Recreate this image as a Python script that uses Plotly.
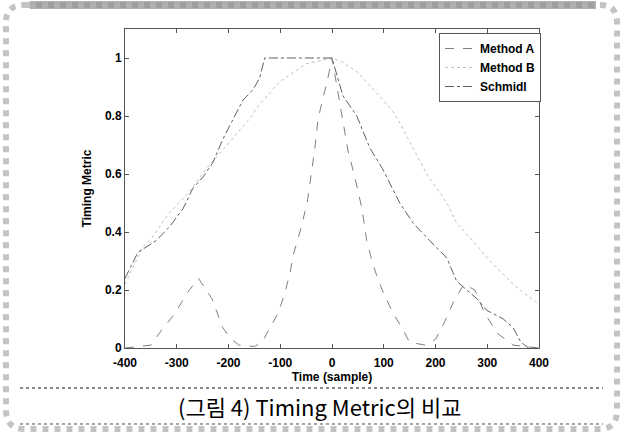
import plotly.graph_objects as go

# ---- data ----
schmidl_x = [-400, -375, -340, -313, -288, -269, -249, -230, -211, -191, -172, -153, -140, -130,
             -100, -50, 0, 21, 48, 73, 97, 131, 157, 189, 222, 241, 260, 280, 299, 331, 350, 365, 380, 400]
schmidl_y = [0.24, 0.33, 0.37, 0.42, 0.48, 0.55, 0.59, 0.64, 0.72, 0.79, 0.855, 0.89, 0.93, 1.0,
             1.0, 1.0, 1.0, 0.87, 0.80, 0.69, 0.62, 0.50, 0.43, 0.37, 0.31, 0.23, 0.20, 0.17, 0.13, 0.10, 0.07, 0.02, 0.0, 0.0]

methodA_x = [-400, -350, -330, -303, -280, -258, -232, -211, -197, -180, -150, -135, -120, -104, -91, -81,
             -75, -62, -48, -33, -27, -17, -8, 0, 10, 21, 31, 44, 58, 67, 79, 90, 102, 118, 135, 150,
             180, 200, 215, 235, 255, 276, 295, 320, 350, 400]
methodA_y = [0.0, 0.01, 0.06, 0.12, 0.19, 0.24, 0.17, 0.07, 0.035, 0.01, 0.005, 0.02, 0.07, 0.12, 0.19, 0.26,
             0.32, 0.40, 0.50, 0.69, 0.79, 0.86, 0.93, 1.0, 0.90, 0.79, 0.68, 0.59, 0.48, 0.37, 0.29, 0.23, 0.18, 0.12, 0.07, 0.02,
             0.01, 0.03, 0.08, 0.16, 0.22, 0.20, 0.12, 0.05, 0.01, 0.0]

methodB_x = [-400, -365, -348, -336, -315, -280, -242, -193, -155, -145, -100, -50, 0, 21, 50, 99, 116,
             131, 160, 183, 222, 241, 272, 300, 328, 350, 400]
methodB_y = [0.22, 0.35, 0.38, 0.41, 0.465, 0.53, 0.62, 0.72, 0.80, 0.83, 0.92, 0.98, 1.0, 0.985, 0.95, 0.855, 0.82,
             0.776, 0.68, 0.60, 0.50, 0.43, 0.37, 0.31, 0.26, 0.22, 0.15]

x_ticks = [-400, -300, -200, -100, 0, 100, 200, 300, 400]
x_tick_text = ["-400", "-300", "-200", "-100", "0", "100", "200", "300", "400"]
y_ticks = [0, 0.2, 0.4, 0.6, 0.8, 1]
y_tick_text = ["0", "0.2", "0.4", "0.6", "0.8", "1"]

caption = "(그림 4) Timing Metric의 비교"

# ---- figure ----
W, H = 623, 434
L, R, T, B = 125, 539, 29, 348
FONT = "Liberation Sans, Arial, sans-serif"


def px(xp):
    return (xp - L) / (R - L)


def py(yp):
    return (B - yp) / (B - T)


fig = go.Figure()
fig.add_trace(go.Scatter(x=methodA_x, y=methodA_y, mode="lines", name="Method A",
                         line=dict(color="#808080", width=1, dash="dash")))
fig.add_trace(go.Scatter(x=methodB_x, y=methodB_y, mode="lines", name="Method B",
                         line=dict(color="#c0c0c0", width=1, dash="dot")))
fig.add_trace(go.Scatter(x=schmidl_x, y=schmidl_y, mode="lines", name="Schmidl",
                         line=dict(color="#606060", width=1, dash="dashdot")))

axis_common = dict(showgrid=False, zeroline=False, showline=True, linecolor="#555555", linewidth=1,
                   mirror="ticks", ticks="inside", ticklen=4, tickcolor="#555555",
                   tickfont=dict(family=FONT, size=12, color="black", weight="bold"))

fig.update_xaxes(range=[-400, 400], tickvals=x_ticks, ticktext=x_tick_text, ticklabelstandoff=4,
                 title=dict(text="Time (sample)", standoff=2,
                            font=dict(family=FONT, size=12, color="black", weight="bold")),
                 **axis_common)
fig.update_yaxes(range=[0, 1.1], tickvals=y_ticks, ticktext=y_tick_text,
                 title=dict(text="Timing Metric", standoff=10,
                            font=dict(family=FONT, size=12, color="black", weight="bold")),
                 **axis_common)

# decorative scan frame and separators
shapes = [
    dict(type="path", xref="paper", yref="paper",
         path=(f"M {px(24)},{py(5)} L {px(600)},{py(5)} Q {px(617)},{py(5)} {px(617)},{py(22)} "
               f"L {px(617)},{py(410)} Q {px(617)},{py(429)} {px(600)},{py(429)} "
               f"L {px(24)},{py(429)} Q {px(6)},{py(429)} {px(6)},{py(410)} "
               f"L {px(6)},{py(22)} Q {px(6)},{py(5)} {px(24)},{py(5)} Z"),
         line=dict(color="#c4c4c4", width=6, dash="dot"), layer="below"),
    dict(type="rect", xref="paper", yref="paper", x0=px(30), x1=px(596), y0=py(1), y1=py(9),
         fillcolor="#8f8f8f", line=dict(width=0), opacity=0.7, layer="below"),
    dict(type="line", xref="paper", yref="paper", x0=px(20), x1=px(603), y0=py(388), y1=py(388),
         line=dict(color="#8a8a8a", width=2, dash="dot")),
    dict(type="line", xref="paper", yref="paper", x0=px(20), x1=px(603), y0=py(424), y1=py(424),
         line=dict(color="#a5a5a5", width=2, dash="dot")),
]

fig.update_layout(
    width=W, height=H,
    margin=dict(l=L, r=W - R, t=T, b=H - B, autoexpand=False),
    paper_bgcolor="white", plot_bgcolor="white",
    showlegend=True,
    legend=dict(x=px(541), y=py(33), xanchor="right", yanchor="top",
                bgcolor="white", bordercolor="#555555", borderwidth=1,
                font=dict(family=FONT, size=12, color="black", weight="bold"),
                tracegroupgap=0),
    shapes=shapes,
    annotations=[dict(text=caption, xref="paper", yref="paper", x=px(319), y=py(406),
                      xanchor="center", yanchor="middle", showarrow=False,
                      font=dict(family="Noto Sans CJK KR, sans-serif", size=22, color="black"))],
)

fig.write_html("out.html")
